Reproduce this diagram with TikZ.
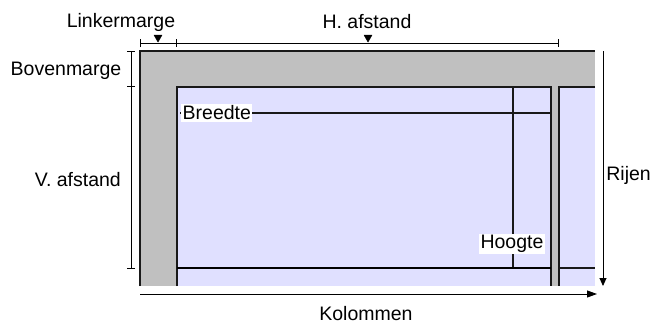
\documentclass[tikz,border=0pt]{standalone}
\usepackage{fontspec}
\setmainfont{Liberation Sans}
\usepackage{xcolor}
\usepackage{tikz}
\usetikzlibrary{arrows.meta}

\definecolor{pagegray}{HTML}{C0C0C0}
\definecolor{labelblue}{HTML}{E0E0FF}

\begin{document}
\begin{tikzpicture}[x=1pt, y=-1pt,
      lbl/.style={font=\fontsize{19.5}{22}\selectfont, inner sep=0pt},
      tag/.style={lbl, fill=white, inner sep=1.5pt},
      edge/.style={line width=1.3pt, black!90},
      dim/.style={line width=0.9pt},
      pointer/.style={fill=black, draw=black, line width=0.5pt, line join=round}]
      \useasboundingbox (0,0) rectangle (654,324);
      % page with the label grid
      \fill[pagegray] (140,51) rectangle (595,286);
      \fill[labelblue] (177,87) rectangle (551,286);
      \fill[labelblue] (559,87) rectangle (595,286);
      \draw[edge] (140,286) -- (140,51) -- (595,51);
      \draw[edge] (177,286) -- (177,87) -- (551,87) -- (551,286);
      \draw[edge] (595,87) -- (559,87) -- (559,286);
      \draw[edge] (513,87) -- (513,268);
      \draw[line width=2.2pt] (177,268) -- (551,268);
      \draw[edge] (559,268) -- (595,268);
      % width and height of one label
      \coordinate (br-start) at (180,113);
      \coordinate (br-end) at (551,113);
      \draw[edge] (br-start) -- (br-end);
      \node[tag, anchor=west] (breedte) at (181,113) {Breedte};
      \node[tag] (hoogte) at (512,244) {Hoogte};
      % measures along the top
      \coordinate (lm-l) at (140,43);
      \coordinate (lm-r) at (177,43);
      \coordinate (ha-r) at (559,43);
      \draw[dim, {Bar[width=8pt]}-{Bar[width=8pt]}] (lm-l) -- (lm-r);
      \draw[dim, -{Bar[width=8pt]}] (lm-r) -- (ha-r);
      \node[lbl] (linker) at (121,22) {Linkermarge};
      \node[lbl] (hafstand) at (367,22) {H. afstand};
      \fill[pointer] (158,42) -- ++(-4,-7) -- ++(8,0) -- cycle;
      \fill[pointer] (368,42) -- ++(-4,-7) -- ++(8,0) -- cycle;
      % measures along the left side
      \coordinate (bm-t) at (131,51);
      \coordinate (bm-b) at (131,87);
      \coordinate (va-b) at (131,269);
      \draw[dim, {Bar[width=8pt]}-{Bar[width=8pt]}] (bm-t) -- (bm-b);
      \draw[dim, -{Bar[width=8pt]}] (bm-b) -- (va-b);
      \node[lbl] (boven) at (66,71) {Bovenmarge};
      \node[lbl, anchor=east] (vafstand) at (121,180) {V. afstand};
      % rows and columns
      \coordinate (rij-t) at (603,51);
      \coordinate (rij-b) at (603,286);
      \coordinate (kol-l) at (140,294);
      \coordinate (kol-r) at (597,294);
      \draw[dim, -{Triangle[length=8pt, width=7pt]}] (rij-t) -- (rij-b);
      \draw[dim, -{Triangle[length=10pt, width=7pt]}] (kol-l) -- (kol-r);
      \node[lbl, anchor=east] (rijen) at (651,175) {Rijen};
      \node[lbl] (kolommen) at (366,314) {Kolommen};
    \end{tikzpicture}
\end{document}
